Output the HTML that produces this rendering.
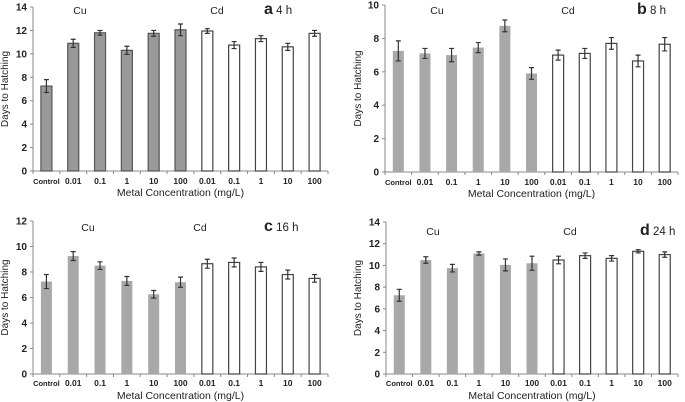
<!DOCTYPE html>
<html><head><meta charset="utf-8"><style>
html,body{margin:0;padding:0;background:#fff;}
svg{display:block;font-family:"Liberation Sans",Arial,sans-serif;}
</style></head><body>
<svg id="fig" width="685" height="402" viewBox="0 0 685 402" xmlns="http://www.w3.org/2000/svg"></svg>
<script>
const categories = ["Control","0.01","0.1","1","10","100","0.01","0.1","1","10","100"];
const valuesA = [7.25,10.9,11.8,10.3,11.75,12.05,11.95,10.75,11.3,10.6,11.75];
const errorsA = [0.55,0.35,0.2,0.35,0.25,0.5,0.2,0.3,0.25,0.3,0.25];
const valuesB = [7.25,7.1,7.0,7.45,8.75,5.9,7.0,7.1,7.7,6.65,7.65];
const errorsB = [0.6,0.3,0.4,0.3,0.35,0.35,0.3,0.3,0.35,0.35,0.4];
const valuesC = [7.25,9.25,8.5,7.3,6.25,7.2,8.65,8.75,8.4,7.8,7.5];
const errorsC = [0.55,0.35,0.3,0.35,0.3,0.4,0.35,0.35,0.35,0.35,0.3];
const valuesD = [7.25,10.5,9.75,11.1,10.05,10.2,10.5,10.9,10.65,11.3,11.0];
const errorsD = [0.55,0.3,0.35,0.15,0.55,0.65,0.35,0.25,0.25,0.15,0.25];
const ticksA = [0,2,4,6,8,10,12,14];
const ticksB = [0,2,4,6,8,10];
const ticksC = [0,2,4,6,8,10,12];
const ticksD = [0,2,4,6,8,10,12,14];

const NS="http://www.w3.org/2000/svg";
const svg=document.getElementById('fig');
function mk(tag,attrs,parent){const e=document.createElementNS(NS,tag);for(const k in attrs)e.setAttribute(k,attrs[k]);(parent||svg).appendChild(e);return e;}

function panel(p){
  const g=mk('g',{});
  
  
  const ymax=p.ticks[p.ticks.length-1];
  const yS=v=>p.y0-(v/ymax)*(p.y0-p.yTop);
  const n=categories.length, cw=(p.x1-p.x0)/n;
  const xS=i=>p.x0+cw*(i+0.5);
  const ya=mk('line',{x1:p.x0,y1:p.yTop,x2:p.x0,y2:p.y0,stroke:'#888','stroke-width':1},g);
  
  const xa=mk('line',{x1:p.x0,y1:p.y0,x2:p.x1,y2:p.y0,stroke:'#888','stroke-width':1},g);
  
  p.ticks.forEach(t=>{
    const y=yS(t);
    mk('line',{x1:p.x0-3,y1:y,x2:p.x0,y2:y,stroke:'#888'},g);
    const tx=mk('text',{x:p.x0-6,y:y+3.5,'font-size':10,'font-weight':'bold','text-anchor':'end',fill:'#222'},g);
    tx.textContent=t;
    
  });
  for(let i=0;i<=n;i++){const x=p.x0+cw*i;mk('line',{x1:x,y1:p.y0,x2:x,y2:p.y0+3,stroke:'#888'},g);}
  categories.forEach((c,i)=>{
    const v=p.vals[i], e=p.errs[i], x=xS(i), bw=11;
    const cu=i<6;
    const r=mk('rect',{x:x-bw/2,y:yS(v),width:bw,height:p.y0-yS(v),
      fill:cu?(p.id==='a'?'#999':'#a8a8a8'):'#fff',
      stroke:cu?(p.id==='a'?'#555':'none'):'#444','stroke-width':1.2},g);
    
    
    const eb=mk('path',{d:`M${x},${yS(v+e)}V${yS(v-e)}M${x-2.5},${yS(v+e)}H${x+2.5}M${x-2.5},${yS(v-e)}H${x+2.5}`,stroke:'#333','stroke-width':1.2,fill:'none'},g);
    
    const tl=mk('text',{x:x,y:p.labY,'font-size':c==='Control'?7.5:8.5,'font-weight':'bold','text-anchor':'middle',fill:'#222'},g);
    tl.textContent=c;
    
  });
  const xt=mk('text',{x:(p.x0+p.x1)/2,y:p.titY,'font-size':10.5,'text-anchor':'middle',fill:'#222'},g);
  xt.textContent='Metal Concentration (mg/L)';
  
  const cy=(p.yTop+p.y0)/2;
  const yt=mk('text',{x:p.yTitX,y:cy,'font-size':10,'text-anchor':'middle',fill:'#222',transform:`rotate(-90 ${p.yTitX} ${cy})`},g);
  yt.textContent='Days to Hatching';
  
  const cu=mk('text',{x:p.cuX,y:p.labTop,'font-size':10.5,'text-anchor':'middle',fill:'#222'},g);
  cu.textContent='Cu';
  const cd=mk('text',{x:p.cdX,y:p.labTop,'font-size':10.5,'text-anchor':'middle',fill:'#222'},g);
  cd.textContent='Cd';
  const pl=mk('text',{x:p.plX,y:p.labTop,'font-size':11.5,fill:'#222'},g);
  pl.innerHTML=`<tspan font-weight="bold" font-size="16">${p.id}</tspan> ${p.time}`;
  
}
panel({id:'a',time:'4 h',vals:valuesA,errs:errorsA,ticks:ticksA,x0:33,x1:328,yTop:7,y0:171,labY:184,titY:196,yTitX:8,cuX:80,cdX:217,plX:264,labTop:14});
panel({id:'b',time:'8 h',vals:valuesB,errs:errorsB,ticks:ticksB,x0:385,x1:678,yTop:5,y0:172,labY:185,titY:197,yTitX:361,cuX:437,cdX:568,plX:637,labTop:14});
panel({id:'c',time:'16 h',vals:valuesC,errs:errorsC,ticks:ticksC,x0:33,x1:328,yTop:221,y0:374,labY:386,titY:399,yTitX:8,cuX:88,cdX:200,plX:264,labTop:231});
panel({id:'d',time:'24 h',vals:valuesD,errs:errorsD,ticks:ticksD,x0:386,x1:678,yTop:222,y0:374,labY:386,titY:399,yTitX:361,cuX:433,cdX:570,plX:640,labTop:235});
</script>
</body></html>
